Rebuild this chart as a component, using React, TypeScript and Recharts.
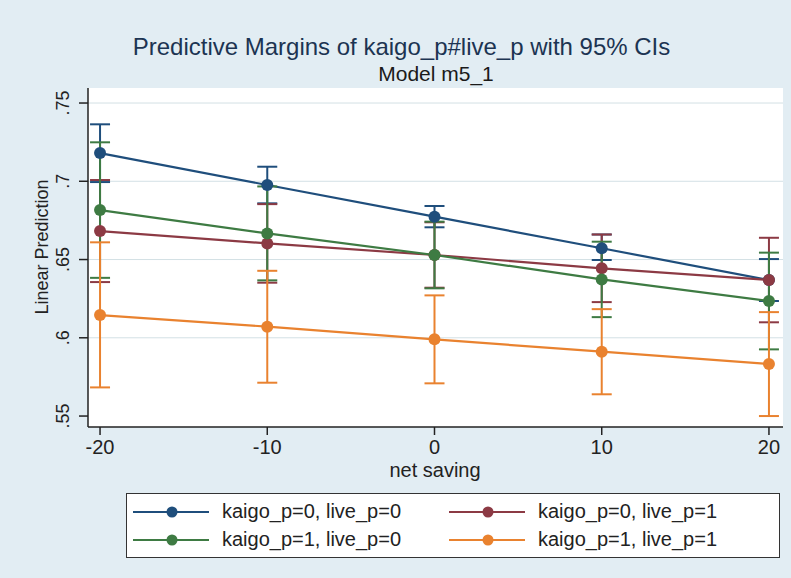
import { ComposedChart, Line, ErrorBar, XAxis, YAxis, CartesianGrid, Label } from "recharts"

// net saving values on the x axis
const netSaving = [-20, -10, 0, 10, 20]
const xTicks = [-20, -10, 0, 10, 20]
const yTicks = [0.55, 0.6, 0.65, 0.7, 0.75]
const gridValues = [0.6, 0.65, 0.7, 0.75]

// predictive margins and 95% CI bounds
const k0l0Mean = [0.718, 0.6976, 0.6774, 0.6572, 0.6369]
const k0l0Lo = [0.6995, 0.6859, 0.6706, 0.6497, 0.6235]
const k0l0Hi = [0.7364, 0.7093, 0.6842, 0.666, 0.6503]

const k0l1Mean = [0.6682, 0.6603, 0.6529, 0.6444, 0.6369]
const k0l1Lo = [0.6356, 0.6352, 0.632, 0.6228, 0.6099]
const k0l1Hi = [0.7008, 0.6854, 0.6738, 0.666, 0.6639]

const k1l0Mean = [0.6816, 0.6667, 0.6529, 0.6373, 0.6235]
const k1l0Lo = [0.6383, 0.6367, 0.6316, 0.6132, 0.5926]
const k1l0Hi = [0.7249, 0.6967, 0.6742, 0.6614, 0.6544]

const k1l1Mean = [0.6145, 0.6071, 0.599, 0.5911, 0.5832]
const k1l1Lo = [0.5683, 0.5713, 0.5709, 0.5639, 0.55]
const k1l1Hi = [0.661, 0.6428, 0.6271, 0.6183, 0.6164]

const series = [
  { key: "k0l0", name: "kaigo_p=0, live_p=0", color: "#1f4e7c", mean: k0l0Mean, lo: k0l0Lo, hi: k0l0Hi },
  { key: "k0l1", name: "kaigo_p=0, live_p=1", color: "#8c3a44", mean: k0l1Mean, lo: k0l1Lo, hi: k0l1Hi },
  { key: "k1l0", name: "kaigo_p=1, live_p=0", color: "#3e7b43", mean: k1l0Mean, lo: k1l0Lo, hi: k1l0Hi },
  { key: "k1l1", name: "kaigo_p=1, live_p=1", color: "#e9822f", mean: k1l1Mean, lo: k1l1Lo, hi: k1l1Hi },
]

const rows = netSaving.map((x, i) => {
  const row: Record<string, number | number[]> = { x }
  series.forEach((s) => {
    row[s.key] = s.mean[i]
    row[s.key + "Err"] = [s.mean[i] - s.lo[i], s.hi[i] - s.mean[i]]
  })
  return row
})

const font = '"Liberation Sans", Arial, sans-serif'
const bg = "#e2edf3"

const fmtY = (v: number) => v.toFixed(2).replace(/0$/, "").replace(/^0/, "")

const YTick = ({ x, y, payload }: any) => (
  <text
    transform={`translate(${x - 8},${y}) rotate(-90)`}
    textAnchor="middle"
    fontSize={18}
    fill="#222"
    fontFamily={font}
  >
    {fmtY(payload.value)}
  </text>
)

const LegendItem = ({ name, color }: { name: string; color: string }) => (
  <div style={{ display: "flex", alignItems: "center", height: 28 }}>
    <svg width={76} height={14} style={{ marginRight: 13 }}>
      <line x1={0} y1={7} x2={76} y2={7} stroke={color} strokeWidth={2} />
      <circle cx={39} cy={7} r={5.5} fill={color} />
    </svg>
    <span style={{ fontSize: 20, color: "#222" }}>{name}</span>
  </div>
)

export default function App() {
  return (
    <div style={{ position: "relative", width: 791, height: 578, background: bg, fontFamily: font }}>
      <style>{"body{margin:0}"}</style>
      <div
        style={{
          position: "absolute",
          top: 33,
          left: 0,
          width: 791,
          textAlign: "center",
          fontSize: 24,
          color: "#1c3452",
          paddingLeft: 12,
          boxSizing: "border-box",
        }}
      >
        Predictive Margins of kaigo_p#live_p with 95% CIs
      </div>
      <div
        style={{
          position: "absolute",
          top: 62,
          left: 0,
          width: 791,
          textAlign: "center",
          fontSize: 21,
          color: "#1a1a1a",
          paddingLeft: 81,
          boxSizing: "border-box",
        }}
      >
        Model m5_1
      </div>

      <ComposedChart
        width={791}
        height={578}
        data={rows}
        margin={{ top: 88, right: 8, bottom: 106, left: 0 }}
        style={{ position: "absolute", top: 0, left: 0 }}
      >
        <CartesianGrid
          vertical={false}
          horizontalValues={gridValues}
          stroke="#d3e0e5"
          strokeWidth={1}
          fill="#ffffff"
        />
        <XAxis
          type="number"
          dataKey="x"
          domain={[-20.72, 20.84]}
          ticks={xTicks}
          allowDataOverflow
          height={45}
          tickSize={8}
          tickMargin={5}
          stroke="#222"
          strokeWidth={1.5}
          tick={{ fill: "#222", fontSize: 20, fontFamily: font }}
        >
          <Label
            content={() => (
              <text x={435} y={477} textAnchor="middle" fontSize={20} fill="#222" fontFamily={font}>
                net saving
              </text>
            )}
          />
        </XAxis>
        <YAxis
          type="number"
          domain={[0.543, 0.7596]}
          ticks={yTicks}
          allowDataOverflow
          width={88}
          tickSize={9}
          tickMargin={2}
          stroke="#222"
          strokeWidth={1.5}
          tick={<YTick />}
        >
          <Label
            content={() => (
              <text
                transform="translate(48,247) rotate(-90)"
                textAnchor="middle"
                fontSize={18}
                fill="#222"
                fontFamily={font}
              >
                Linear Prediction
              </text>
            )}
          />
        </YAxis>
        {series.map((s) => (
          <Line
            key={s.key}
            type="linear"
            dataKey={s.key}
            stroke={s.color}
            strokeWidth={2.2}
            dot={{ r: 6, fill: s.color, stroke: s.color, strokeWidth: 0 }}
            activeDot={false}
            isAnimationActive={false}
          >
            <ErrorBar
              dataKey={s.key + "Err"}
              direction="y"
              width={10}
              stroke={s.color}
              strokeWidth={2}
              isAnimationActive={false}
            />
          </Line>
        ))}
      </ComposedChart>

      <div
        style={{
          position: "absolute",
          left: 126,
          top: 493,
          width: 654,
          height: 65,
          boxSizing: "border-box",
          border: "1px solid #333",
          background: "#ffffff",
          display: "grid",
          gridTemplateColumns: "316px 320px",
          alignContent: "center",
          paddingLeft: 6,
        }}
      >
        <LegendItem name={series[0].name} color={series[0].color} />
        <LegendItem name={series[1].name} color={series[1].color} />
        <LegendItem name={series[2].name} color={series[2].color} />
        <LegendItem name={series[3].name} color={series[3].color} />
      </div>
    </div>
  )
}
